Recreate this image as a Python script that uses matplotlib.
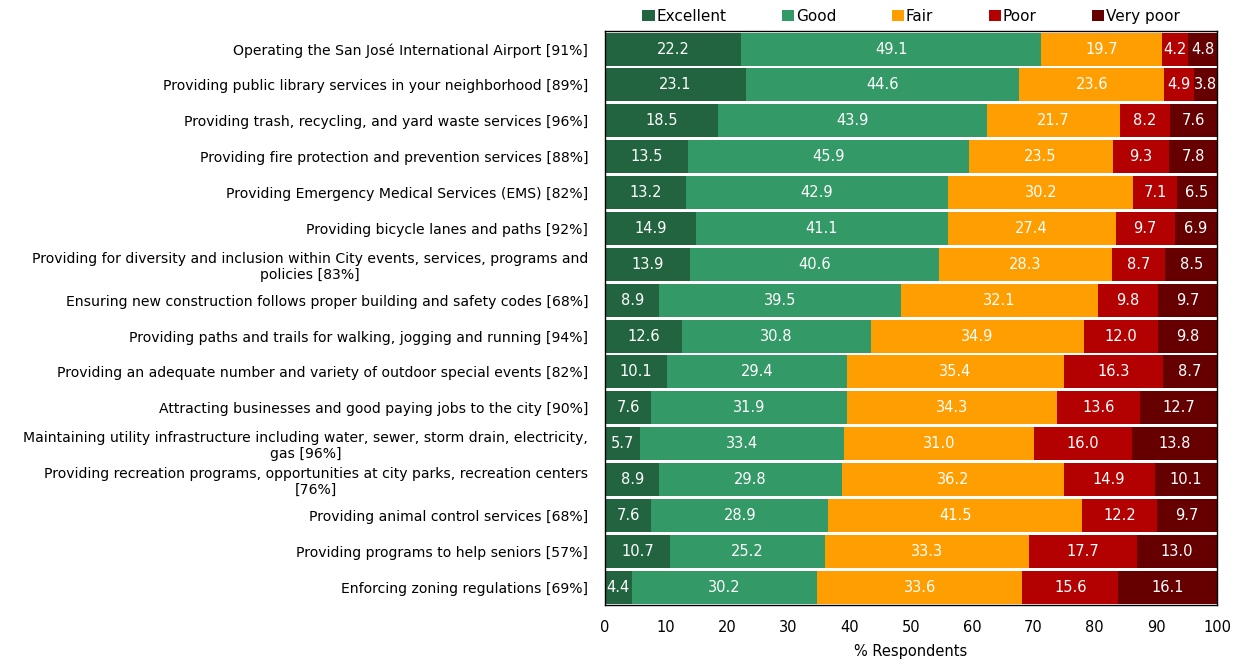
import numpy as np
import matplotlib.pyplot as plt

services = [
    "Operating the San José International Airport [91%]",
    "Providing public library services in your neighborhood [89%]",
    "Providing trash, recycling, and yard waste services [96%]",
    "Providing fire protection and prevention services [88%]",
    "Providing Emergency Medical Services (EMS) [82%]",
    "Providing bicycle lanes and paths [92%]",
    "Providing for diversity and inclusion within City events, services, programs and\npolicies [83%]",
    "Ensuring new construction follows proper building and safety codes [68%]",
    "Providing paths and trails for walking, jogging and running [94%]",
    "Providing an adequate number and variety of outdoor special events [82%]",
    "Attracting businesses and good paying jobs to the city [90%]",
    "Maintaining utility infrastructure including water, sewer, storm drain, electricity,\ngas [96%]",
    "Providing recreation programs, opportunities at city parks, recreation centers\n[76%]",
    "Providing animal control services [68%]",
    "Providing programs to help seniors [57%]",
    "Enforcing zoning regulations [69%]",
]

excellent = [22.2, 23.1, 18.5, 13.5, 13.2, 14.9, 13.9, 8.9, 12.6, 10.1, 7.6, 5.7, 8.9, 7.6, 10.7, 4.4]
good = [49.1, 44.6, 43.9, 45.9, 42.9, 41.1, 40.6, 39.5, 30.8, 29.4, 31.9, 33.4, 29.8, 28.9, 25.2, 30.2]
fair = [19.7, 23.6, 21.7, 23.5, 30.2, 27.4, 28.3, 32.1, 34.9, 35.4, 34.3, 31.0, 36.2, 41.5, 33.3, 33.6]
poor = [4.2, 4.9, 8.2, 9.3, 7.1, 9.7, 8.7, 9.8, 12.0, 16.3, 13.6, 16.0, 14.9, 12.2, 17.7, 15.6]
very_poor = [4.8, 3.8, 7.6, 7.8, 6.5, 6.9, 8.5, 9.7, 9.8, 8.7, 12.7, 13.8, 10.1, 9.7, 13.0, 16.1]

series = [
    ("Excellent", excellent, "#21643f"),
    ("Good", good, "#339966"),
    ("Fair", fair, "#ff9e00"),
    ("Poor", poor, "#b30000"),
    ("Very poor", very_poor, "#660000"),
]

plt.rcParams.update({"font.family": "DejaVu Sans", "font.size": 10.5})

fig = plt.figure(figsize=(12.37, 6.62), dpi=100)
ax = fig.add_axes([0.489, 0.086, 0.495, 0.867])

y = np.arange(len(services))
left = np.zeros(len(services))
for name, vals, color in series:
    vals = np.array(vals)
    ax.barh(y, vals, left=left, height=0.92, color=color, label=name)
    for yi, l, v in zip(y, left, vals):
        ax.text(l + v / 2, yi, "{:.1f}".format(v), ha="center", va="center",
                color="white", fontsize=10.5)
    left += vals

ax.set_xlim(0, 100)
ax.set_ylim(len(services) - 0.5, -0.5)
ax.set_yticks(y)
ax.set_yticklabels(services, multialignment="center", fontsize=10.1)
ax.set_xticks(np.arange(0, 101, 10))
ax.tick_params(axis="both", length=0)
ax.tick_params(axis="y", pad=12)
ax.tick_params(axis="x", pad=11)
ax.set_xlabel("% Respondents", labelpad=6)
for sp in ax.spines.values():
    sp.set_color("black")
    sp.set_linewidth(1)

ax.legend(loc="center", bbox_to_anchor=(0.5, 1.026), ncol=5, frameon=False,
          handlelength=0.8, handleheight=0.8, handletextpad=0.1, columnspacing=3.65,
          borderaxespad=0.0, borderpad=0.0, fontsize=11)

fig.savefig("out.png", dpi=100)
